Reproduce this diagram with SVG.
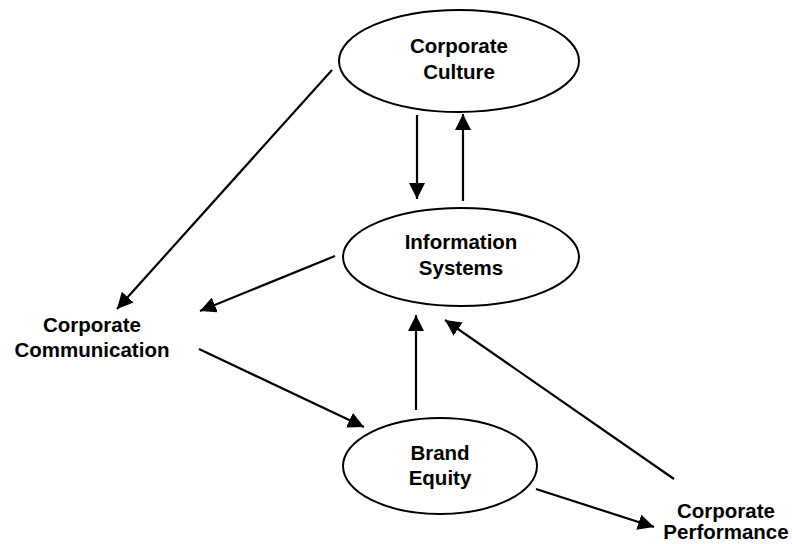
<svg xmlns="http://www.w3.org/2000/svg" width="792" height="544" viewBox="0 0 792 544">
<style>
.n{fill:#fff;stroke:#000;stroke-width:2}
.t{font-family:"Liberation Sans",Arial,sans-serif;font-weight:bold;font-size:20.5px;fill:#000;text-anchor:middle}
.c line{stroke:#000;stroke-width:2.2;marker-end:url(#a)}
</style>
<defs>
<marker id="a" markerUnits="userSpaceOnUse" markerWidth="16" markerHeight="16" viewBox="0 0 16 16" refX="16" refY="8" orient="auto">
<path d="M0,0 L16,8 L0,16 Z" fill="#000"/>
</marker>
</defs>
<rect width="792" height="544" fill="#fff"/>
<g id="culture"><ellipse class="n" cx="459" cy="61" rx="120" ry="51"/><text class="t" x="459" y="53">Corporate</text><text class="t" x="459" y="79">Culture</text></g>
<g id="info"><ellipse class="n" cx="461" cy="257" rx="118" ry="49"/><text class="t" x="461" y="249">Information</text><text class="t" x="461" y="275">Systems</text></g>
<g id="brand"><ellipse class="n" cx="440" cy="466" rx="97" ry="48"/><text class="t" x="440" y="460">Brand</text><text class="t" x="440" y="485">Equity</text></g>
<g id="communication"><text class="t" x="92" y="332">Corporate</text><text class="t" x="92" y="357">Communication</text></g>
<g id="performance"><text class="t" x="726" y="518">Corporate</text><text class="t" x="726" y="539">Performance</text></g>
<g id="connectors" class="c">
<line x1="332" y1="70" x2="117" y2="309"/>
<line x1="417" y1="115" x2="417" y2="199"/>
<line x1="463" y1="201" x2="463" y2="114"/>
<line x1="335" y1="256" x2="200" y2="311"/>
<line x1="199" y1="349" x2="364" y2="427"/>
<line x1="416" y1="410" x2="416" y2="315"/>
<line x1="674" y1="479" x2="445" y2="320"/>
<line x1="536" y1="489" x2="654" y2="527"/>
</g>
</svg>
